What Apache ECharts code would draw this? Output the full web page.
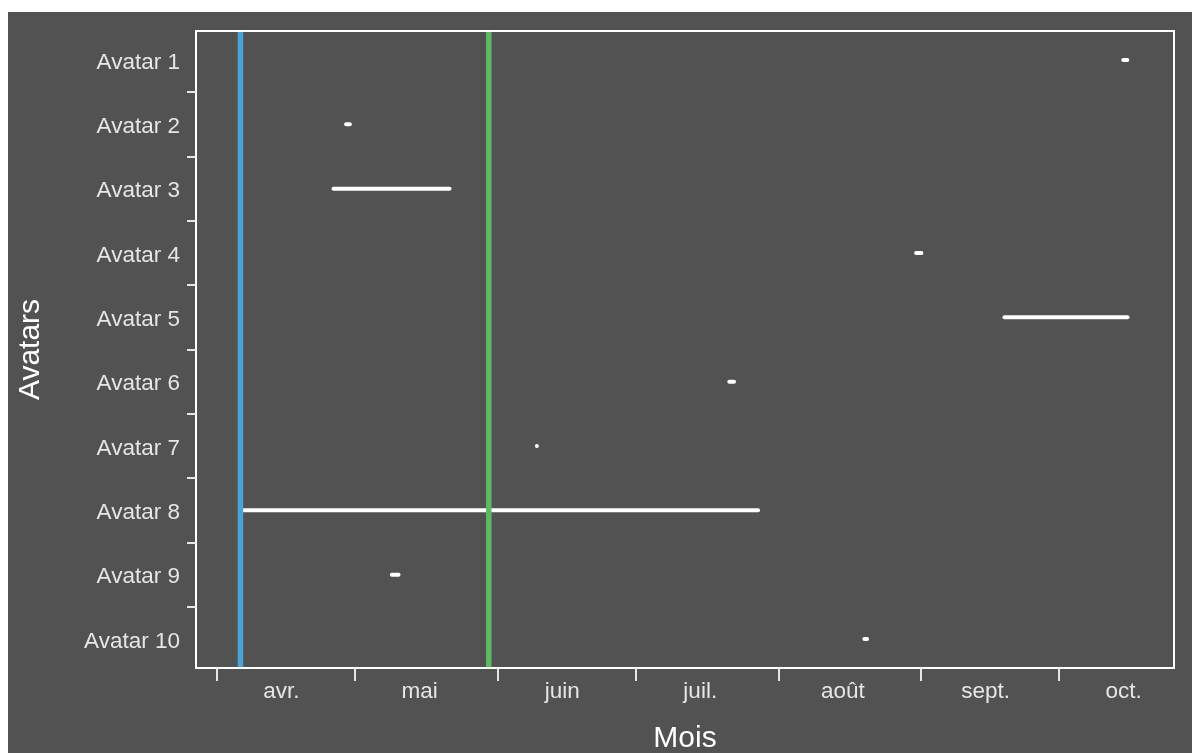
<!DOCTYPE html>
<html>
<head>
<meta charset="utf-8">
<script src="https://cdn.jsdelivr.net/npm/echarts@6/dist/echarts.min.js"></script>
<style>
  html, body { margin: 0; padding: 0; background: #ffffff; width: 1192px; height: 753px; overflow: hidden; }
  #chart { position: absolute; left: 8px; top: 12px; width: 1184px; height: 741px; }
</style>
</head>
<body>
<div id="chart"></div>
<script>
// ---- data ----
const avatars = ['Avatar 1','Avatar 2','Avatar 3','Avatar 4','Avatar 5','Avatar 6','Avatar 7','Avatar 8','Avatar 9','Avatar 10'];
const startTimes = ['2023-10-14T11:30','2023-04-28T14:40','2023-04-25T21:00','2023-08-30T11:15','2023-09-18T16:00',
                    '2023-07-20T21:00','2023-06-09T01:40','2023-04-06T02:10','2023-05-08T13:10','2023-08-19T05:30'];
const endTimes   = ['2023-10-16T05:15','2023-04-30T07:00','2023-05-21T23:00','2023-09-01T11:45','2023-10-16T06:45',
                    '2023-07-22T18:30','2023-06-09T22:30','2023-07-27T23:45','2023-05-10T21:00','2023-08-20T16:30'];
const refLineTimes = ['2023-04-06T02:10','2023-05-30T01:10'];
const monthTickDates = ['2023-04-01','2023-05-01','2023-06-01','2023-07-01','2023-08-01','2023-09-01','2023-10-01'];
const monthLabelDates = ['2023-04-15','2023-05-15','2023-06-15','2023-07-15','2023-08-15','2023-09-15','2023-10-15'];
const monthLabels = ['avr.','mai','juin','juil.','août','sept.','oct.'];

// ---- styles ----
const refLineColors = ['#4aa3d8','#5dba63'];
const textColor = '#e6e6e6';
const fontFamily = '"Liberation Sans", Arial, Helvetica, sans-serif';
const segWidth = 4;

const ts = s => new Date(s.length === 10 ? s + 'T00:00' : s).getTime();

const segData = avatars.map((a, i) => [ts(startTimes[i]), ts(endTimes[i]), i + 1]);
const allT = segData.flatMap(d => [d[0], d[1]]).concat(refLineTimes.map(ts));
const tMin = Math.min(...allT), tMax = Math.max(...allT);
const tPad = (tMax - tMin) * 0.05;
const yMin = 1 - (avatars.length - 1) * 0.05, yMax = avatars.length + (avatars.length - 1) * 0.05;

const tickTs = monthTickDates.map(ts);
const labelTs = monthLabelDates.map(ts);
const yLabelVals = avatars.map((a, i) => i + 1);
const yTickVals = avatars.slice(1).map((a, i) => i + 1.5);

const chart = echarts.init(document.getElementById('chart'), null, { renderer: 'canvas' });
chart.setOption({
  backgroundColor: '#525252',
  animation: false,
  grid: { left: 188, top: 19, right: 18, bottom: 85, show: true, borderColor: '#ffffff', borderWidth: 2,
          backgroundColor: 'transparent', containLabel: false, outerBoundsMode: 'none' },
  xAxis: {
    type: 'value',
    scale: true,
    min: tMin - tPad,
    max: tMax + tPad,
    name: 'Mois',
    nameLocation: 'middle',
    nameGap: 56,
    nameTextStyle: { color: '#ffffff', fontSize: 30, fontFamily },
    axisLine: { show: false },
    splitLine: { show: false },
    axisTick: { show: true, customValues: tickTs, length: 13, lineStyle: { color: textColor, width: 2 } },
    axisLabel: {
      customValues: labelTs,
      color: textColor, fontSize: 22.5, fontFamily, margin: 12,
      formatter: v => { const i = labelTs.indexOf(v); return i >= 0 ? monthLabels[i] : ''; }
    }
  },
  yAxis: {
    type: 'value',
    inverse: true,
    min: yMin,
    max: yMax,
    name: 'Avatars',
    nameLocation: 'middle',
    nameRotate: 90,
    nameGap: 150,
    nameTextStyle: { color: '#ffffff', fontSize: 30, fontFamily },
    axisLine: { show: false },
    splitLine: { show: false },
    axisTick: { show: true, customValues: yTickVals, length: 9, lineStyle: { color: textColor, width: 2 } },
    axisLabel: {
      customValues: yLabelVals,
      color: textColor, fontSize: 22.5, fontFamily, margin: 16,
      formatter: v => '{a|' + avatars[Math.round(v) - 1] + '}',
      rich: { a: { color: textColor, fontSize: 22.5, fontFamily, padding: [5, 0, 0, 0] } }
    }
  },
  series: [
    {
      type: 'custom',
      data: segData,
      encode: { x: [0, 1], y: 2 },
      z: 2,
      renderItem: (params, api) => {
        const s = api.coord([api.value(0), api.value(2)]);
        const e = api.coord([api.value(1), api.value(2)]);
        const r = segWidth / 2;
        if (e[0] - s[0] <= segWidth) {
          return { type: 'circle', shape: { cx: (s[0] + e[0]) / 2, cy: s[1], r: r }, style: { fill: '#ffffff' } };
        }
        return { type: 'line', shape: { x1: s[0] + r, y1: s[1], x2: e[0] - r, y2: e[1] },
                 style: { stroke: '#ffffff', lineWidth: segWidth, lineCap: 'round' } };
      }
    },
    {
      type: 'custom',
      data: refLineTimes.map((t, i) => [ts(t), i]),
      encode: { x: 0 },
      z: 3,
      renderItem: (params, api) => {
        const cs = params.coordSys;
        const x = api.coord([api.value(0), yMin])[0];
        return { type: 'line', shape: { x1: x, y1: cs.y + 1, x2: x, y2: cs.y + cs.height - 1 },
                 style: { stroke: refLineColors[api.value(1)], lineWidth: 5.5 } };
      }
    }
  ]
});
</script>
</body>
</html>
